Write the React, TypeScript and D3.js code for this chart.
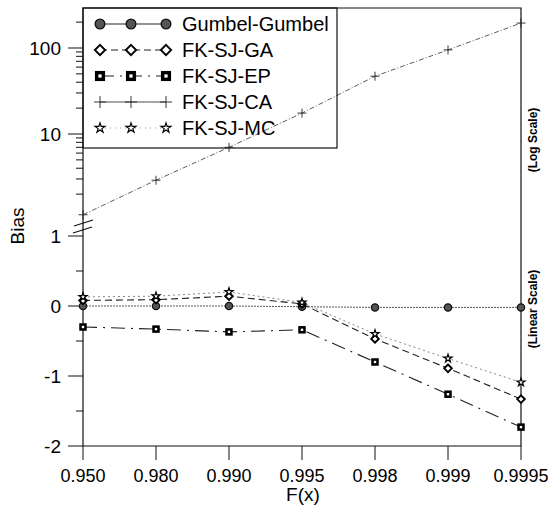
import React from "react";
import * as d3 from "d3";

const categories = ["0.950", "0.980", "0.990", "0.995", "0.998", "0.999", "0.9995"];
const gumbel = [0.0, 0.0, 0.0, -0.01, -0.02, -0.02, -0.02];
const fkGA = [0.08, 0.09, 0.14, 0.03, -0.47, -0.89, -1.33];
const fkEP = [-0.3, -0.33, -0.37, -0.34, -0.8, -1.26, -1.73];
const fkCA = [1.15, 2.9, 7.0, 17.5, 47, 95, 195];
const fkMC = [0.13, 0.14, 0.2, 0.05, -0.4, -0.75, -1.09];
const seriesNames = ["Gumbel-Gumbel", "FK-SJ-GA", "FK-SJ-EP", "FK-SJ-CA", "FK-SJ-MC"];
const linTicks = [-2, -1, 0, 1];
const linMinor = [-1.5, -0.5, 0.5];
const logMajor = [10, 100];

const W = 548, H = 506;
const L = 83, R = 521, T = 8, B = 446;
const FONT = "'Liberation Sans', Arial, sans-serif";

const x = d3.scalePoint<string>().domain(categories).range([L, R]);
const yLin = d3.scaleLinear().domain([-2, 1]).range([B, 236]);
const yLog = d3.scaleLog().domain([1, 100]).range([220, 48]);

function Marker({ kind, cx, cy, big }: { kind: string; cx: number; cy: number; big?: boolean }) {
  const k = big ? 1.35 : 1;
  if (kind === "circle") {
    return <circle cx={cx} cy={cy} r={3.6 * k} fill="#555" stroke="#111" strokeWidth={1.3} />;
  }
  if (kind === "diamond") {
    const s = 3.8 * k;
    return (
      <path d={`M${cx},${cy - s}L${cx + s},${cy}L${cx},${cy + s}L${cx - s},${cy}Z`} fill="#fff" stroke="#000" strokeWidth={1.9} />
    );
  }
  if (kind === "square") {
    const s = 7.5 * k;
    return (
      <g>
        <rect x={cx - s / 2} y={cy - s / 2} width={s} height={s} fill="#000" />
        <rect x={cx - 1.2 * k} y={cy - 1.2 * k} width={2.4 * k} height={2.4 * k} fill="#fff" />
      </g>
    );
  }
  if (kind === "plus") {
    const s = 4.5 * k;
    return <path d={`M${cx - s},${cy}H${cx + s}M${cx},${cy - s}V${cy + s}`} stroke="#222" strokeWidth={0.9} fill="none" />;
  }
  const star = d3.symbol().type(d3.symbolStar).size(big ? 30 : 20)()!;
  return <path d={star} transform={`translate(${cx},${cy})`} fill="#fff" stroke="#000" strokeWidth={1.2} />;
}

const styles = [
  { kind: "circle", dash: "2,1", legendDash: "none", width: 1, color: "#555" },
  { kind: "diamond", dash: "7,4", legendDash: "7,4", width: 1.1, color: "#222" },
  { kind: "square", dash: "14,6,2,6", legendDash: "14,6,2,6", width: 1.1, color: "#222" },
  { kind: "plus", dash: "5,2,1,2", legendDash: "none", width: 0.8, color: "#333" },
  { kind: "star", dash: "2,3", legendDash: "1,4", width: 0.9, color: "#777" },
];

export default function App() {
  const linSeries = [gumbel, fkGA, fkEP, null, fkMC];
  const lineLin = d3
    .line<number>()
    .x((_, i) => x(categories[i])!)
    .y((d) => yLin(d));
  const lineLog = d3
    .line<number>()
    .x((_, i) => x(categories[i])!)
    .y((d) => yLog(d));

  const logMinor: number[] = [];
  [1, 10, 100].forEach((dec) => {
    for (let m = 2; m <= 9; m++) {
      const v = m * dec;
      if (yLog(v) >= T + 2) logMinor.push(v);
    }
  });

  const legendRows = [24, 50, 76, 102, 128];
  const legendX = [100, 131, 166];

  return (
    <svg width={W} height={H} style={{ position: "absolute", left: 0, top: 0, background: "#fff" }} fontFamily={FONT}>
      <rect x={0} y={0} width={W} height={H} fill="#fff" />
      {/* frame */}
      <path d={`M${L},${T}H${R}V${B}H${L}Z`} fill="none" stroke="#111" strokeWidth={1.2} />

      {/* linear y ticks */}
      {linTicks.map((t) => (
        <g key={"lt" + t}>
          <line x1={L - 15} x2={L} y1={yLin(t)} y2={yLin(t)} stroke="#111" strokeWidth={1} />
          <text x={61} y={yLin(t)} dy="0.36em" textAnchor="end" fontSize={19}>
            {t < 0 ? "-" + Math.abs(t) : String(t)}
          </text>
        </g>
      ))}
      {linMinor.map((t) => (
        <line key={"lm" + t} x1={L - 7} x2={L} y1={yLin(t)} y2={yLin(t)} stroke="#111" strokeWidth={1} />
      ))}
      {/* log y ticks */}
      {logMajor.map((t) => (
        <g key={"gt" + t}>
          <line x1={L - 15} x2={L} y1={yLog(t)} y2={yLog(t)} stroke="#111" strokeWidth={1} />
          <text x={61} y={yLog(t)} dy="0.36em" textAnchor="end" fontSize={19}>
            {t}
          </text>
        </g>
      ))}
      {logMinor.map((t) => (
        <line key={"gm" + t} x1={L - 7} x2={L} y1={yLog(t)} y2={yLog(t)} stroke="#111" strokeWidth={1} />
      ))}
      {/* axis break marks */}
      <line x1={74} x2={93} y1={226} y2={220} stroke="#111" strokeWidth={1.2} />
      <line x1={73} x2={92} y1={233} y2={227} stroke="#111" strokeWidth={1.2} />

      {/* x ticks */}
      {categories.map((c) => (
        <g key={"xt" + c}>
          <line x1={x(c)} x2={x(c)} y1={B} y2={B + 14} stroke="#111" strokeWidth={1} />
          <text x={x(c)} y={482} textAnchor="middle" fontSize={18}>
            {c}
          </text>
        </g>
      ))}

      {/* axis titles */}
      <text x={303} y={501} textAnchor="middle" fontSize={19}>
        F(x)
      </text>
      <text transform="translate(24,226) rotate(-90)" textAnchor="middle" fontSize={19}>
        Bias
      </text>
      <text transform="translate(537,140) rotate(-90)" textAnchor="middle" fontSize={12} fontWeight="bold">
        (Log Scale)
      </text>
      <text transform="translate(537,309) rotate(-90)" textAnchor="middle" fontSize={12} fontWeight="bold">
        (Linear Scale)
      </text>

      {/* series lines */}
      {linSeries.map((s, i) =>
        s ? (
          <path key={"l" + i} d={lineLin(s)!} fill="none" stroke={styles[i].color} strokeWidth={styles[i].width} strokeDasharray={styles[i].dash} />
        ) : null
      )}
      <path d={lineLog(fkCA)!} fill="none" stroke={styles[3].color} strokeWidth={styles[3].width} strokeDasharray={styles[3].dash} />

      {/* markers */}
      {linSeries.map((s, i) =>
        s
          ? s.map((v, j) => <Marker key={"m" + i + "-" + j} kind={styles[i].kind} cx={x(categories[j])!} cy={yLin(v)} />)
          : null
      )}
      {fkCA.map((v, j) => (
        <Marker key={"ca" + j} kind="plus" cx={x(categories[j])!} cy={yLog(v)} />
      ))}

      {/* legend */}
      <rect x={L} y={T} width={254} height={140} fill="none" stroke="#111" strokeWidth={1.2} />
      {seriesNames.map((name, i) => (
        <g key={"lg" + i}>
          <line
            x1={legendX[0]}
            x2={legendX[2]}
            y1={legendRows[i]}
            y2={legendRows[i]}
            stroke={i === 4 ? "#999" : "#222"}
            strokeWidth={i === 3 ? 0.8 : 1.1}
            strokeDasharray={styles[i].legendDash}
          />
          {legendX.map((lx) => (
            <Marker key={lx} kind={styles[i].kind} cx={lx} cy={legendRows[i]} big />
          ))}
          <text x={182} y={legendRows[i]} dy="0.36em" fontSize={20}>
            {name}
          </text>
        </g>
      ))}
    </svg>
  );
}
